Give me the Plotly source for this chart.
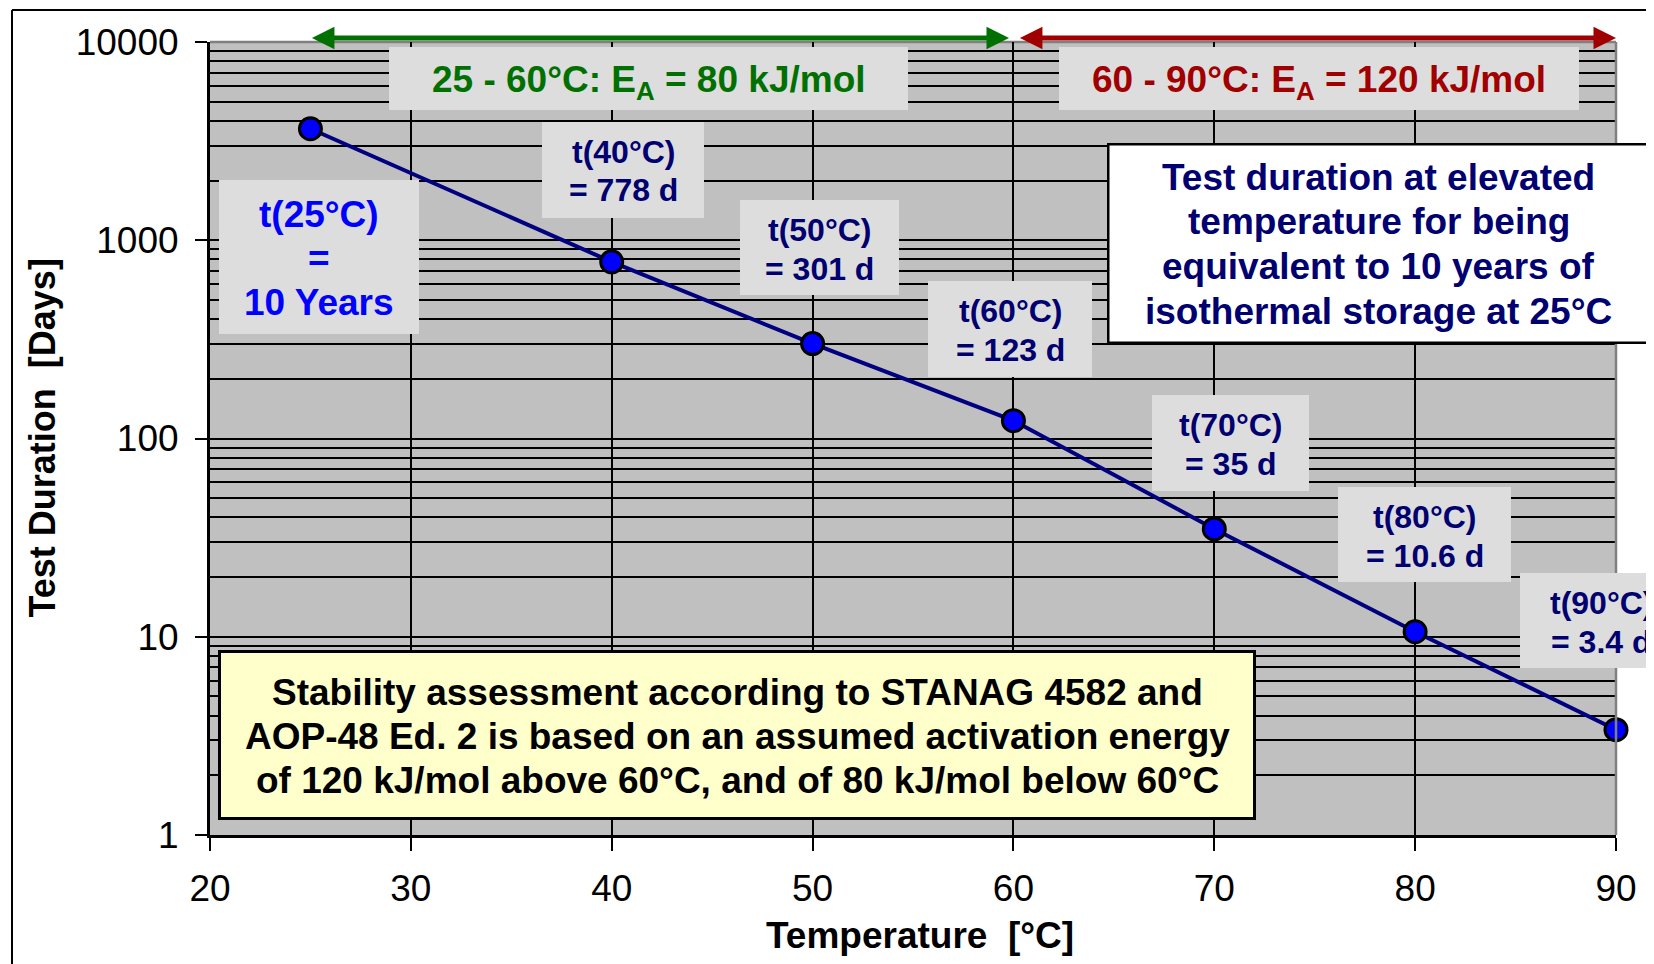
import plotly.graph_objects as go

# ---------------- data ----------------
temps = [25, 40, 50, 60, 70, 80, 90]            # °C
days = [3652, 778, 301, 123, 35, 10.6, 3.4]     # test duration [d]
day_labels = ["10 Years", "778", "301", "123", "35", "10.6", "3.4"]
x_ticks = [20, 30, 40, 50, 60, 70, 80, 90]
y_ticks = [1, 10, 100, 1000, 10000]
range_low = [25, 60]     # E_A = 80 kJ/mol range
range_high = [60, 90]    # E_A = 120 kJ/mol range
ea_low = 80
ea_high = 120

# ---------------- geometry helpers (page pixels -> paper) ----------------
W, H = 1654, 964
OFF = 8                     # page body margin of the html page
L, R, T, B = 210, 1616, 42, 835
def px(x):
    return (x - L) / (R - L)
def py(y):
    return (B - y) / (B - T)

FONT = "Liberation Sans, Arial, sans-serif"
NAVY = "#000070"
BOXGREY = "#DDDDDD"

fig = go.Figure()
fig.add_trace(go.Scatter(
    x=temps, y=days, mode="lines+markers",
    line=dict(color="#000080", width=4),
    marker=dict(size=22, color="#0000FF", line=dict(color="black", width=3)),
    showlegend=False, hoverinfo="x+y", cliponaxis=False,
))

annotations = []
shapes = [
    # plot area top / right border (gray)
    dict(type="line", xref="paper", yref="paper", x0=0, x1=1, y0=1, y1=1,
         line=dict(color="#808080", width=2.5), layer="below"),
    dict(type="line", xref="paper", yref="paper", x0=1, x1=1, y0=0, y1=1,
         line=dict(color="#808080", width=2.5), layer="above"),
    # outer chart frame (left / top)
    dict(type="line", xref="paper", yref="paper", x0=px(12), x1=px(12), y0=py(1000), y1=py(10),
         line=dict(color="black", width=2)),
    dict(type="line", xref="paper", yref="paper", x0=px(12), x1=px(1700), y0=py(10), y1=py(10),
         line=dict(color="black", width=2)),
]

def rect(x0, y0, x1, y1, fill, bw=0):
    h = bw / 2
    shapes.append(dict(
        type="rect", xref="paper", yref="paper", layer="above",
        x0=px(x0 + h), x1=px(x1 - h), y0=py(y1 - h), y1=py(y0 + h),
        fillcolor=fill, line=dict(color="black", width=bw) if bw else dict(width=0),
    ))

def text(t, cx, cy, size, color):
    annotations.append(dict(
        text=t, xref="paper", yref="paper", x=px(cx), y=py(cy),
        xanchor="center", yanchor="middle", showarrow=False,
        font=dict(family=FONT, size=size, color=color),
    ))

# E_A range labels
rect(389, 47, 908, 110, BOXGREY)
text(f"<b>{range_low[0]} - {range_low[1]}°C: E<sub>A</sub> = {ea_low} kJ/mol</b>", 648.5, 82, 37, "#007000")
rect(1059, 47, 1579, 110, BOXGREY)
text(f"<b>{range_high[0]} - {range_high[1]}°C: E<sub>A</sub> = {ea_high} kJ/mol</b>", 1319, 82, 37, "#A00000")

# point labels (box left, top, right, bottom in page px)
label_boxes = [
    (219, 180, 419, 334),
    (542, 122, 704, 218),
    (740, 200, 899, 295),
    (928, 281, 1092, 377),
    (1152, 395, 1309, 491),
    (1338, 487, 1511, 582),
    (1520, 573, 1683, 668),
]
for i, (t, lab) in enumerate(zip(temps, day_labels)):
    x0, y0, x1, y1 = label_boxes[i]
    rect(x0, y0, x1, y1, BOXGREY)
    cx = (x0 + x1) / 2
    if i == 0:
        for line, yy in zip([f"t({t}°C)", "=", lab], [214, 259, 303]):
            text(f"<b>{line}</b>", cx, yy, 37, "#0000FF")
    else:
        text(f"<b>t({t}°C)</b>", cx, y0 + 30, 32, NAVY)
        text(f"<b>= {lab} d</b>", cx, y0 + 68.5, 32, NAVY)

# explanatory boxes
rect(1107, 143, 1650, 344, "white", bw=2.5)
for line, yy in zip(["Test duration at elevated", "temperature for being",
                     "equivalent to 10 years of", "isothermal storage at 25°C"],
                    [177, 222, 266.5, 311]):
    text(f"<b>{line}</b>", 1378.5, yy, 37, NAVY)

rect(218, 650, 1256, 820, "#FFFFCC", bw=3)
for line, yy in zip(["Stability assessment according to STANAG 4582 and",
                     "AOP-48 Ed. 2 is based on an assumed activation energy",
                     "of 120 kJ/mol above 60°C, and of 80 kJ/mol below 60°C"],
                    [692, 736, 780.5]):
    text(f"<b>{line}</b>", 737, yy, 37, "black")

# double headed range arrows
arrow_y = py(38)
for (x0, x1), col in [((range_low[0], range_low[1] - 0.22), "#007000"),
                      ((range_high[0] + 0.25, range_high[1]), "#A00000")]:
    annotations.append(dict(
        text="", xref="x", yref="paper", x=x1, y=arrow_y,
        axref="x", ayref="pixel", ax=x0, ay=0,
        showarrow=True, arrowside="end+start",
        arrowhead=2, startarrowhead=2, arrowsize=0.9, startarrowsize=0.9,
        arrowwidth=5, arrowcolor=col, standoff=0, startstandoff=0,
    ))

# axis titles
annotations.append(dict(
    text="<b>Temperature  [°C]</b>", xref="paper", yref="paper",
    x=px(920), y=py(935), xanchor="center", yanchor="middle", showarrow=False,
    font=dict(family=FONT, size=37, color="black"),
))
annotations.append(dict(
    text="<b>Test Duration  [Days]</b>", xref="paper", yref="paper",
    x=px(42), y=py(438.5), xanchor="center", yanchor="middle", showarrow=False,
    textangle=-90, font=dict(family=FONT, size=36, color="black"),
))

fig.update_layout(
    width=W, height=H,
    margin=dict(l=L - OFF, r=W - (R - OFF), t=T - OFF, b=H - (B - OFF), autoexpand=False),
    paper_bgcolor="white", plot_bgcolor="#C0C0C0",
    font=dict(family=FONT, color="black"),
    annotations=annotations, shapes=shapes,
    xaxis=dict(
        range=[20, 90], tickmode="array", tickvals=x_ticks,
        ticktext=[str(v) for v in x_ticks],
        showgrid=True, gridcolor="black", gridwidth=2,
        showline=True, linecolor="black", linewidth=3, zeroline=False,
        ticks="outside", ticklen=13, tickwidth=2, tickcolor="black",
        tickfont=dict(size=37, family=FONT), ticklabelstandoff=6,
    ),
    yaxis=dict(
        type="log", range=[0, 4], tickmode="array", tickvals=y_ticks,
        ticktext=[str(v) for v in y_ticks],
        showgrid=True, gridcolor="black", gridwidth=2,
        minor=dict(dtick="D1", showgrid=True, gridcolor="black", gridwidth=2, ticks=""),
        showline=True, linecolor="black", linewidth=3, zeroline=False,
        ticks="outside", ticklen=12, tickwidth=2, tickcolor="black",
        tickfont=dict(size=37, family=FONT), ticklabelstandoff=9,
    ),
)

fig.write_html("out.html")
